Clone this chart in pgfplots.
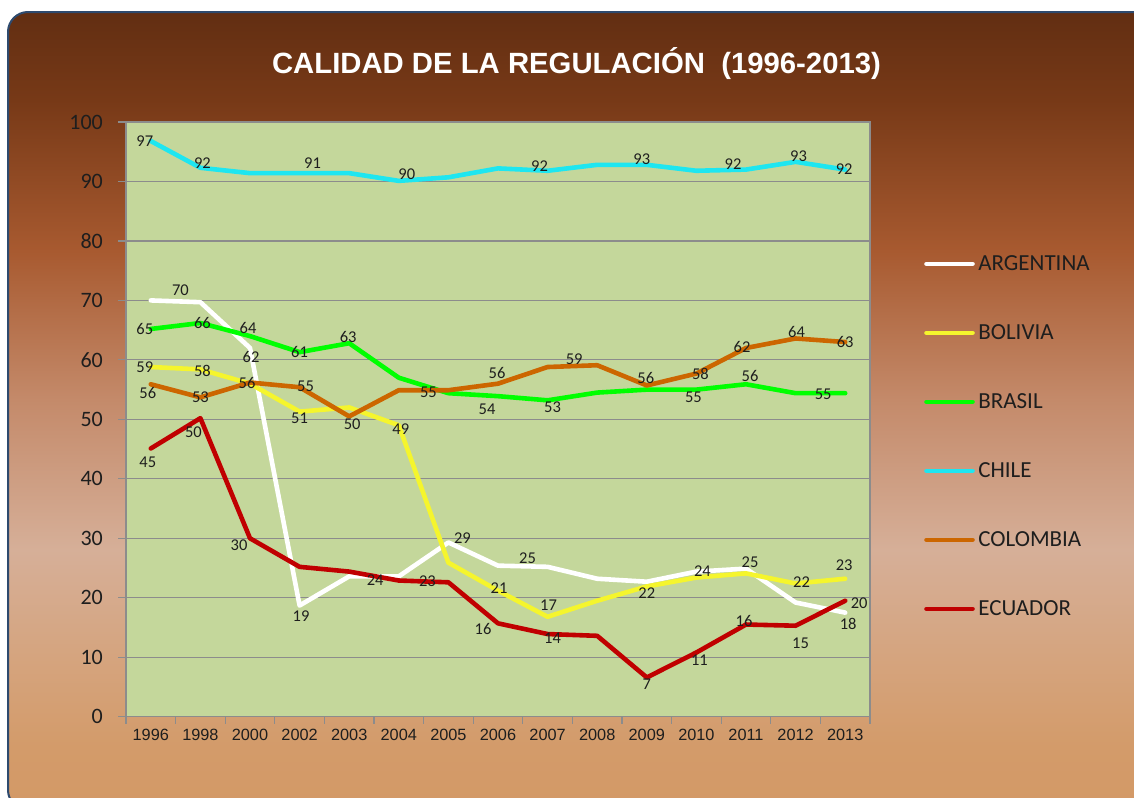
\documentclass[border=0pt]{standalone}
\usepackage{pgfplots}
\pgfplotsset{compat=1.18}
\usepackage{pgfplotstable}
\usepackage{fontspec}
\setmainfont{Carlito}
\newfontfamily\arial{Liberation Sans}

\definecolor{plotbg}{RGB}{196,215,155}
\definecolor{gridc}{RGB}{140,140,140}
\definecolor{cARG}{RGB}{255,255,255}
\definecolor{cBOL}{RGB}{245,245,45}
\definecolor{cBRA}{RGB}{0,255,0}
\definecolor{cCHI}{RGB}{30,230,240}
\definecolor{cCOL}{RGB}{204,102,0}
\definecolor{cECU}{RGB}{192,0,0}
\definecolor{boxborder}{RGB}{46,74,110}
\definecolor{labc}{RGB}{30,30,30}

\definecolor{s0}{HTML}{D39966}
\definecolor{s1}{HTML}{D39B6A}
\definecolor{s2}{HTML}{D5A47E}
\definecolor{s3}{HTML}{D6AF98}
\definecolor{s4}{HTML}{C48A6A}
\definecolor{s5}{HTML}{A85A30}
\definecolor{s6}{HTML}{773917}
\definecolor{s7}{HTML}{622E12}
\pgfdeclareverticalshading{bgshade}{100bp}{color(0bp)=(s0); color(25bp)=(s0); color(29bp)=(s1); color(34.5bp)=(s2); color(41.3bp)=(s3); color(50.7bp)=(s4); color(60bp)=(s5); color(69.5bp)=(s6); color(75bp)=(s7); color(100bp)=(s7)}

% ---- line data (x = category index) ----
\pgfplotstableread{
x y
0 70
1 69.7
2 62
3 18.7
4 23.6
5 23.6
6 29.3
7 25.4
8 25.2
9 23.2
10 22.7
11 24.4
12 24.9
13 19.2
14 17.5
}\dARG
\pgfplotstableread{
x y
0 58.8
1 58.4
2 56
3 51.3
4 52
5 49
6 25.9
7 21.2
8 16.8
9 19.5
10 21.9
11 23.4
12 24.1
13 22.4
14 23.2
}\dBOL
\pgfplotstableread{
x y
0 65.2
1 66.2
2 64
3 61.3
4 62.8
5 57
6 54.4
7 53.9
8 53.2
9 54.5
10 55
11 55
12 55.9
13 54.4
14 54.4
}\dBRA
\pgfplotstableread{
x y
0 96.8
1 92.3
2 91.4
3 91.4
4 91.4
5 90.1
6 90.7
7 92.2
8 91.8
9 92.8
10 92.8
11 91.8
12 92
13 93.3
14 92
}\dCHI
\pgfplotstableread{
x y
0 55.9
1 53.7
2 56.2
3 55.4
4 50.5
5 54.9
6 54.9
7 56
8 58.8
9 59.1
10 55.7
11 57.7
12 62
13 63.6
14 63
}\dCOL
\pgfplotstableread{
x y
0 45.1
1 50.2
2 30
3 25.2
4 24.4
5 22.9
6 22.6
7 15.7
8 13.9
9 13.6
10 6.6
11 10.8
12 15.5
13 15.3
14 19.5
}\dECU

% ---- data labels: x y label dx dy ----
\pgfplotstableread{
x y lab dx dy
0 96.8 97 -6 0
1 92.3 92 2 5
3 91.4 91 13 10
5 90.1 90 8 7
8 91.8 92 -8 5
10 92.8 93 -5 6
12 92 92 -13 5
13 93.3 93 3 6
14 92 92 -1 0
}\lCHI
\pgfplotstableread{
x y lab dx dy
1 69.7 70 -20 12
2 62 62 1 -9
3 18.7 19 1.5 -11
4 23.6 24 26 -4
6 29.3 29 14 4
8 25.2 25 -20 9
11 24.4 24 6 0
12 24.9 25 4 6
14 17.5 18 3 -11
}\lARG
\pgfplotstableread{
x y lab dx dy
0 58.8 59 -6 0
1 58.4 58 2 -2
3 51.3 51 0 -7
5 49 49 2 -4
7 21.2 21 1 2
8 16.8 17 1 12
10 21.9 22 0 -7
13 22.4 22 6 1
14 23.2 23 -1 14
}\lBOL
\pgfplotstableread{
x y lab dx dy
0 65.2 65 -6 0
1 66.2 66 2 0
2 64 64 -2 8
3 61.3 61 0 0
4 62.8 63 -1 6
7 53.9 54 -11 -13
8 53.2 53 5 -7
11 55 55 -3 -8
12 55.9 56 4 8
14 54.4 55 -22 -1
}\lBRA
\pgfplotstableread{
x y lab dx dy
0 55.9 56 -3 -9
1 53.7 53 0 0
2 56.2 56 -3 -1
3 55.4 55 6 1
4 50.5 50 3 -8
6 54.9 55 -20 -2
7 56 56 -1 11
9 59.1 59 -23 6
10 55.7 56 -1 7
11 57.7 58 4 0
12 62 62 -4 1
13 63.6 64 1 6
14 63 63 0 0
}\lCOL
\pgfplotstableread{
x y lab dx dy
0 45.1 45 -3 -14
1 50.2 50 -7 -14
2 30 30 -11 -7
6 22.6 23 -21 1
7 15.7 16 -15 -6
8 13.9 14 5 -4
10 6.6 7 0 -7
11 10.8 11 3 -8
12 15.5 16 -2 4
13 15.3 15 5 -18
14 19.5 20 14 -2
}\lECU

\pgfplotsset{
  datalabels/.style={draw=none, mark=none, forget plot,
    nodes near coords, point meta=explicit symbolic,
    visualization depends on={\thisrow{dx} \as \labdx},
    visualization depends on={\thisrow{dy} \as \labdy},
    every node near coord/.append style={anchor=center, inner sep=0pt,
      xshift=\labdx bp, yshift=\labdy bp, text=labc,
      font=\fontsize{16.5bp}{16.5bp}\selectfont}},
  serie/.style={line width=4.6bp, line join=round, line cap=round, mark=none},
}

\begin{document}
\begin{tikzpicture}
\fill[white] (0bp,0bp) rectangle (1134bp,-798bp);
\useasboundingbox (0bp,0bp) rectangle (1134bp,-798bp);
\clip (0bp,0bp) rectangle (1134bp,-798bp);
\shade[shading=bgshade, rounded corners=20bp] (8bp,-12bp) rectangle (1170bp,-810bp);
\draw[boxborder, line width=2bp, rounded corners=20bp] (8bp,-12bp) rectangle (1170bp,-810bp);
\node[anchor=base, text=white, font=\arial\bfseries\fontsize{29.3bp}{29.3bp}\selectfont] at (576.5bp,-73bp) {CALIDAD DE LA REGULACIÓN\ \ (1996-2013)};

\begin{axis}[
  at={(126bp,-716.7bp)}, anchor=south west,
  scale only axis, width=744bp, height=594.7bp,
  xmin=-0.5, xmax=14.5, ymin=0, ymax=100,
  axis background/.style={fill=plotbg},
  axis line style={draw=gridc, line width=1.2bp},
  ytick={0,10,...,100},
  xtick={0,...,14},
  xticklabels={1996,1998,2000,2002,2003,2004,2005,2006,2007,2008,2009,2010,2011,2012,2013},
  minor xtick={-0.5,0.5,...,14.5},
  tick pos=left,
  tick align=outside,
  major tick length=8bp, minor tick length=7bp,
  major x tick style={draw=none},
  tick style={draw=gridc, line width=1.2bp},
  ymajorgrids, grid style={draw=gridc, line width=1.2bp},
  /pgf/number format/assume math mode=true,
  yticklabel style={font=\fontsize{22bp}{22bp}\selectfont, anchor=east, inner sep=0pt, xshift=-15bp, text=labc},
  xticklabel style={font=\arial\fontsize{16.3bp}{16.3bp}\selectfont, anchor=north, inner sep=0pt, yshift=-4bp, text=labc},
  clip=false,
  legend cell align=left,
  legend style={at={(1.0686,0.777)}, anchor=north west, draw=none, fill=none,
    font=\fontsize{23bp}{23bp}\selectfont, text=labc,
    nodes={inner sep=0pt, text height=14bp, text depth=0pt},
    row sep=55bp, column sep=3.5bp},
  legend image code/.code={\draw[#1, line cap=round, line width=4.6bp] (0bp,0bp) -- (46bp,0bp);},
]
\addplot[serie, cARG] table[x=x,y=y] {\dARG}; \addlegendentry{ARGENTINA}
\addplot[serie, cBOL] table[x=x,y=y] {\dBOL}; \addlegendentry{BOLIVIA}
\addplot[serie, cBRA] table[x=x,y=y] {\dBRA}; \addlegendentry{BRASIL}
\addplot[serie, cCHI] table[x=x,y=y] {\dCHI}; \addlegendentry{CHILE}
\addplot[serie, cCOL] table[x=x,y=y] {\dCOL}; \addlegendentry{COLOMBIA}
\addplot[serie, cECU] table[x=x,y=y] {\dECU}; \addlegendentry{ECUADOR}

\addplot[datalabels] table[x=x,y=y,meta=lab] {\lARG};
\addplot[datalabels] table[x=x,y=y,meta=lab] {\lBOL};
\addplot[datalabels] table[x=x,y=y,meta=lab] {\lBRA};
\addplot[datalabels] table[x=x,y=y,meta=lab] {\lCHI};
\addplot[datalabels] table[x=x,y=y,meta=lab] {\lCOL};
\addplot[datalabels] table[x=x,y=y,meta=lab] {\lECU};
\end{axis}
\end{tikzpicture}
\end{document}
